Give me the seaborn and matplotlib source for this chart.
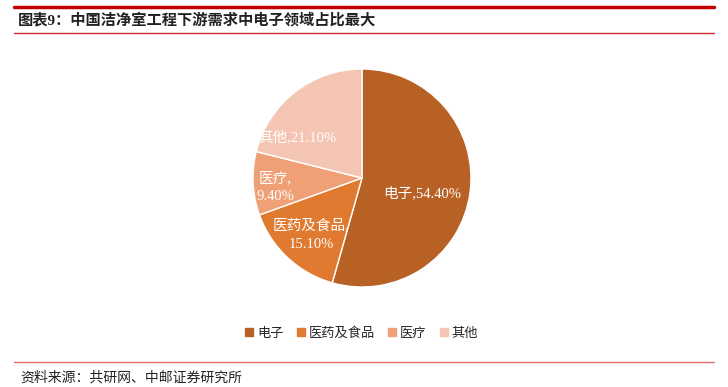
import numpy as np
import matplotlib.pyplot as plt
import seaborn as sns
from matplotlib.lines import Line2D

sns.set_theme(style="white")
plt.rcParams['font.family'] = ['Liberation Serif', 'Noto Sans CJK SC', 'DejaVu Sans']

categories = ['电子', '医药及食品', '医疗', '其他']
shares = [54.4, 15.1, 9.4, 21.1]
label_texts = ['电子,54.40%', '医药及食品,\n15.10%', '医疗,\n9.40%', '其他,21.10%']
colors = ['#B86125', '#E07A30', '#F0A077', '#F5C5B3']

# label placement (radius fraction, angle shift in degrees)
label_r = [0.57, 0.70, 0.80, 0.70]
label_shift = [-6, 1, 3, 20]

fig = plt.figure(figsize=(7.28, 3.87), dpi=100)
ax = fig.add_axes([0.3475, 0.2584, 0.2995, 0.5633])
wedges, _ = ax.pie(shares, colors=colors, startangle=90, counterclock=False,
                   wedgeprops=dict(edgecolor='white', linewidth=1))
ax.set_xlim(-1, 1)
ax.set_ylim(-1, 1)
ax.set_aspect('equal')

for w, txt, r, sh in zip(wedges, label_texts, label_r, label_shift):
    ang = np.deg2rad((w.theta1 + w.theta2) / 2 + sh)
    ax.text(r * np.cos(ang), r * np.sin(ang), txt, ha='center', va='center',
            color='white', fontsize=10.5, linespacing=1.5)

handles = [plt.Rectangle((0, 0), 1, 1, color=c) for c in colors]
fig.legend(handles, categories, loc='center', bbox_to_anchor=(0.497, 0.139),
           ncol=4, frameon=False, fontsize=9.5, handlelength=0.6, handleheight=0.6,
           handletextpad=0.3, columnspacing=1.0)

# header / footer rules
fig.add_artist(Line2D([14/728, 714/728], [1-7/387]*2, color='#C00000', lw=2.5))
fig.add_artist(Line2D([14/728, 714/728], [1-33/387]*2, color='#C9262C', lw=1.0))
fig.add_artist(Line2D([14/728, 714/728], [1-362/387]*2, color='#E06A6A', lw=1.0))

fig.text(18/728, 1-20/387, '图表9：中国洁净室工程下游需求中电子领域占比最大',
         fontsize=11, fontweight='bold', va='center', ha='left', color='#222222')
fig.text(20/728, 1-378/387, '资料来源：共研网、中邮证券研究所',
         fontsize=10, va='center', ha='left', color='#222222')

fig.savefig('out.png', dpi=100)
